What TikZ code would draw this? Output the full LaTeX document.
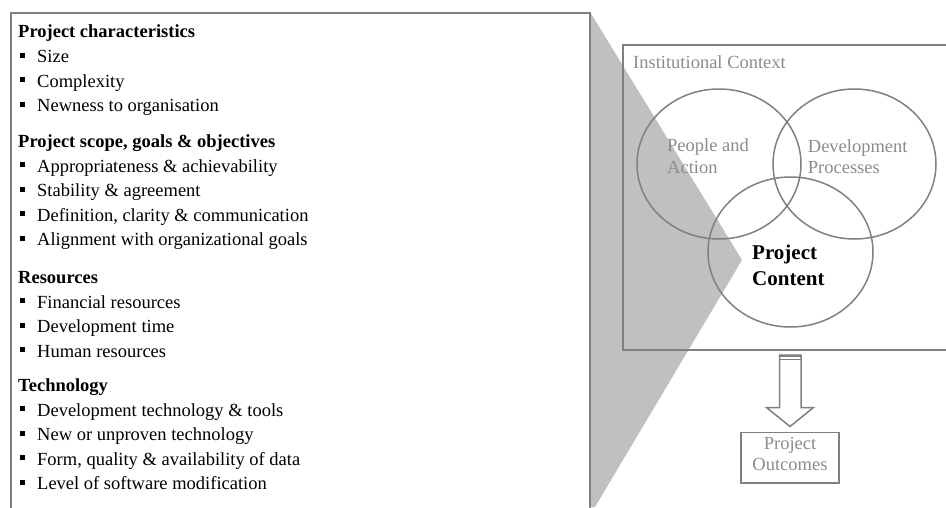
\documentclass[tikz,border=0pt]{standalone}
\usepackage{fontspec}
\setmainfont{Liberation Serif}
\usetikzlibrary{shapes.geometric}
\definecolor{edgegray}{HTML}{808080}
\definecolor{wedgegray}{HTML}{C0C0C0}
\definecolor{softgray}{HTML}{8C8C8C}
\tikzset{
  txt/.style={anchor=base west, inner sep=0pt, font=\fontsize{18.5}{22}\selectfont},
  headtxt/.style={anchor=base west, inner sep=0pt, font=\fontsize{18.5}{22}\selectfont\bfseries},
  graytxt/.style={anchor=base west, inner sep=0pt, text=softgray, font=\fontsize{18.5}{22}\selectfont},
  boldtxt/.style={anchor=base west, inner sep=0pt, font=\fontsize{21}{25}\selectfont\bfseries},
  bul/.style={fill=black, draw=none, minimum size=5pt, inner sep=0pt, rectangle},
  framebox/.style={draw=edgegray, line width=2pt, rectangle, inner sep=0pt},
  ring/.style={draw=edgegray, line width=1.5pt, ellipse, inner sep=0pt},
  blockarrow/.style={draw=edgegray, line width=1.5pt, fill=white, line join=miter}
}
\newcommand\itm[3]{\node[bul] (#1b) at (22.5,#2-7.5) {};\node[txt] (#1) at (37,#2) {#3};}
\begin{document}
\begin{tikzpicture}[x=1pt,y=-1pt]
\useasboundingbox (0,0) rectangle (946,507);
\fill[white] (0,0) rectangle (946,507);
% wedge
\fill[wedgegray] (590,12) -- (742,260) -- (595,507) -- (590,507) -- cycle;
% left frame
\node[framebox, anchor=north west, minimum width=579pt, minimum height=520pt] (lbox) at (10,12) {};
% institutional context frame
\node[framebox, anchor=north west, minimum width=340pt, minimum height=305pt] (ctx) at (622,44) {};
% left texts
\node[headtxt] (h1) at (18,37) {Project characteristics};
\itm{a1}{62.5}{Size}
\itm{a2}{87}{Complexity}
\itm{a3}{111.5}{Newness to organisation}
\node[headtxt] (h2) at (18,147) {Project scope, goals \& objectives};
\itm{b1}{172}{Appropriateness \& achievability}
\itm{b2}{196.5}{Stability \& agreement}
\itm{b3}{221}{Definition, clarity \& communication}
\itm{b4}{245.5}{Alignment with organizational goals}
\node[headtxt] (h3) at (18,283.5) {Resources};
\itm{c1}{308}{Financial resources}
\itm{c2}{332.5}{Development time}
\itm{c3}{357}{Human resources}
\node[headtxt] (h4) at (18,391.5) {Technology};
\itm{d1}{416}{Development technology \& tools}
\itm{d2}{440.5}{New or unproven technology}
\itm{d3}{465}{Form, quality \& availability of data}
\itm{d4}{489.5}{Level of software modification}
% right side
\node[graytxt] (ictx) at (633,68) {Institutional Context};
\node[ring, minimum width=164pt, minimum height=150pt] (pa) at (719,164) {};
\node[ring, minimum width=163pt, minimum height=150pt] (dp) at (854.5,164) {};
\node[ring, minimum width=165pt, minimum height=150pt] (pc) at (790.5,252) {};
\node[graytxt] (pa1) at (667,151.7) {People and};
\node[graytxt] (pa2) at (667,173.3) {Action};
\node[graytxt] (dp1) at (807.7,152) {Development};
\node[graytxt] (dp2) at (807.7,173.3) {Processes};
\node[boldtxt] (pc1) at (752,259.5) {Project};
\node[boldtxt] (pc2) at (752,285) {Content};
% arrow
\coordinate (at) at (790,355);
\coordinate (ab) at (790,426.5);
\draw[blockarrow] (779.5,355) -- (801,355) -- (801,407.5) -- (813.5,407.5) -- (ab) -- (766.5,407.5) -- (779.5,407.5) -- cycle;
\draw[edgegray, line width=2.5pt] (779.5,356) -- (801,356);
\draw[edgegray, line width=1pt] (779.5,359.8) -- (801,359.8);
% outcomes
\node[draw=edgegray, line width=1.5pt, rectangle, inner sep=0pt, minimum width=98pt, minimum height=50.5pt] (po) at (790,457.8) {};
\node[graytxt, anchor=base] (po1) at (790,449.3) {Project};
\node[graytxt, anchor=base] (po2) at (790,470) {Outcomes};
\end{tikzpicture}
\end{document}
